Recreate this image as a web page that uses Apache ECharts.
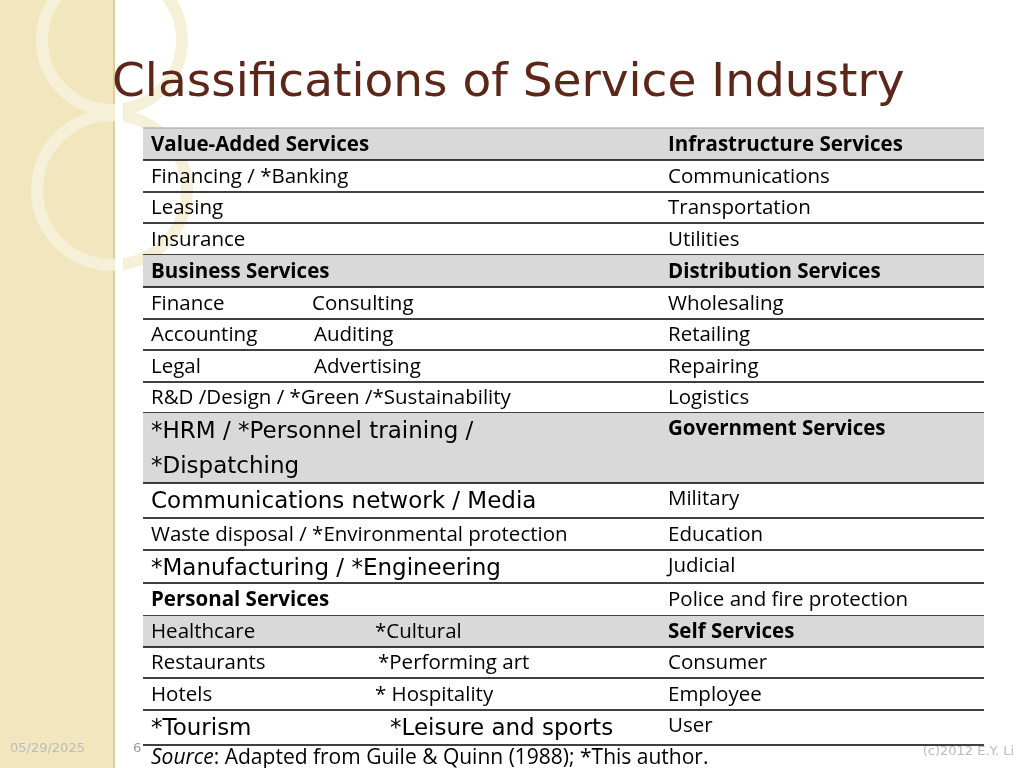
<!DOCTYPE html><html><head><meta charset="utf-8"><script src="https://cdn.jsdelivr.net/npm/echarts@6/dist/echarts.min.js"></script>
<style>html,body{margin:0;padding:0;background:#fff}#c{width:1024px;height:768px}</style></head><body><div id="c"></div><script>
const leftText=["Value-Added Services","Financing / *Banking","Leasing","Insurance","Business Services","Finance","Accounting","Legal","R&D /Design / *Green /*Sustainability","*HRM / *Personnel training /\n*Dispatching","Communications network / Media","Waste disposal / *Environmental protection","*Manufacturing / *Engineering","Personal Services","Healthcare","Restaurants","Hotels","*Tourism"];
const leftSub=["","","","","","Consulting","Auditing","Advertising","","","","","","","*Cultural","*Performing art","* Hospitality","*Leisure and sports"];
const rightText=["Infrastructure Services","Communications","Transportation","Utilities","Distribution Services","Wholesaling","Retailing","Repairing","Logistics","Government Services","Military","Education","Judicial","Police and fire protection","Self Services","Consumer","Employee","User"];
const rowBounds=[128,160,192,223,255,287,319,350,382,413,483,518,550,583,616,647,678,710,745];
const shaded=[0,4,9,14];
const boldLeft=[0,4,13];
const boldRight=[0,4,9,14];
const bigRows=[9,10,12,17];
const subX={5:312,6:314,7:314,14:375,15:378,16:375,17:390};
const chart=echarts.init(document.getElementById('c'));
const data=leftText.map((t,i)=>[i,rowBounds[i],rowBounds[i+1]]);
chart.setOption({
 animation:false,
 title:{text:'Classifications of Service Industry',left:107,top:55,textStyle:{fontFamily:'DejaVu Sans',fontSize:47,fontWeight:'normal',color:'#5c2618'}},
 grid:{left:143,right:40,top:0,bottom:0},
 xAxis:{type:'value',min:143,max:984,show:false},
 yAxis:{type:'value',min:0,max:768,inverse:true,show:false},
 graphic:[
  {type:'rect',shape:{x:0,y:0,width:113,height:768},style:{fill:'#f1e6bd'},z:-10},
  {type:'rect',shape:{x:113,y:0,width:2,height:768},style:{fill:'#ddd0a0'},z:-10},
  {type:'circle',shape:{cx:112,cy:40,r:70},style:{fill:'none',stroke:'#f7f0d8',lineWidth:12},z:-9},
  {type:'circle',shape:{cx:112,cy:190,r:75},style:{fill:'none',stroke:'#f7f0d8',lineWidth:12},z:-9},
  {type:'rect',shape:{x:115,y:0,width:8,height:768},style:{fill:'#fff'},z:-8},
  {type:'text',left:10,top:742,style:{text:'05/29/2025',fontSize:13,fill:'#bbbbbb',fontFamily:'DejaVu Sans'}},
  {type:'text',left:133,top:742,style:{text:'6',fontSize:13,fill:'#999',fontFamily:'DejaVu Sans'}},
  {type:'text',right:10,top:745,style:{text:'(c)2012 E.Y. Li',fontSize:13,fill:'#bbbbbb',fontFamily:'DejaVu Sans'}},
  {type:'text',left:151,top:748,style:{rich:{i:{fontStyle:'italic',fontSize:21,fontFamily:'Open Sans'},n:{fontSize:21,fontFamily:'Open Sans'}},text:'{i|Source}{n|: Adapted from Guile & Quinn (1988); *This author.}',fill:'#000'}}
 ],
 series:[{type:'custom',data:data,renderItem:(p,api)=>{
  const i=api.value(0);
  const a=api.coord([143,api.value(1)]), b=api.coord([984,api.value(2)]);
  const big=bigRows.includes(i);
  const ch=[];
  if(shaded.includes(i)) ch.push({type:'rect',shape:{x:a[0],y:a[1],width:b[0]-a[0],height:b[1]-a[1]},style:{fill:'#d9d9d9'}});
  ch.push({type:'line',shape:{x1:a[0],y1:b[1],x2:b[0],y2:b[1]},style:{stroke:'#000',lineWidth:1.5}});
  if(i===0) ch.push({type:'line',shape:{x1:a[0],y1:a[1],x2:b[0],y2:a[1]},style:{stroke:'#999',lineWidth:1}});
  const ff=big?'DejaVu Sans':'Open Sans';
  const ty=big?a[1]+2:(a[1]+b[1])/2-12;
  const lh=big?35:26;
  const fs=big?23:20.5;
  ch.push({type:'text',x:a[0]+8,y:ty,style:{text:leftText[i],fontSize:fs,fontFamily:ff,lineHeight:lh,fontWeight:boldLeft.includes(i)?'bold':'normal',fill:'#000'}});
  if(leftSub[i]) ch.push({type:'text',x:subX[i],y:ty,style:{text:leftSub[i],fontSize:fs,fontFamily:ff,lineHeight:lh,fill:'#000'}});
  ch.push({type:'text',x:668,y:big?a[1]+3:(a[1]+b[1])/2-12,style:{text:rightText[i],fontSize:20.5,fontFamily:'Open Sans',lineHeight:26,fontWeight:boldRight.includes(i)?'bold':'normal',fill:'#000'}});
  return {type:'group',children:ch};
 }}]
});
</script></body></html>
